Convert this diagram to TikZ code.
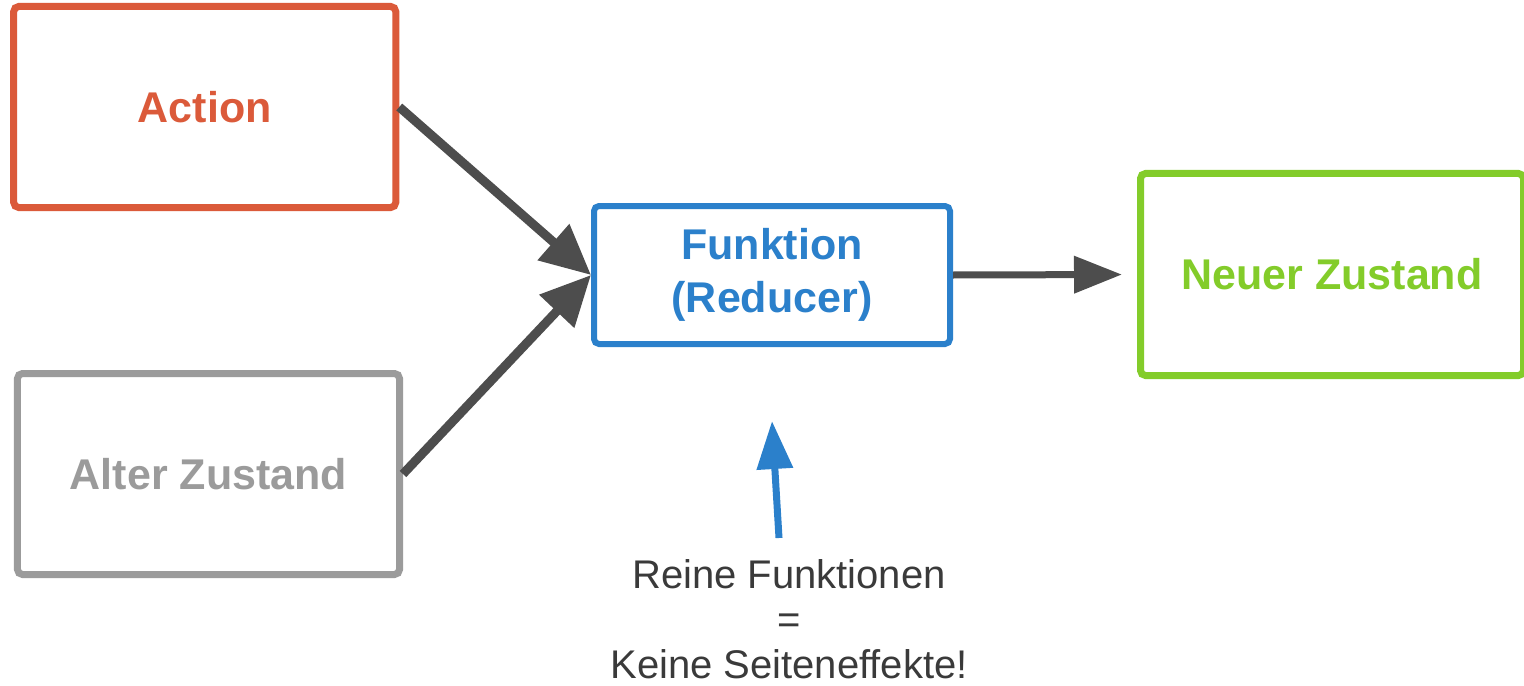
\documentclass[tikz,border=0pt]{standalone}
\usepackage{fontspec}
\setmainfont{Liberation Sans}
\usetikzlibrary{arrows.meta}
\definecolor{cOrange}{HTML}{DB5A3A}
\definecolor{cGray}{HTML}{9B9B9B}
\definecolor{cBlue}{HTML}{2B80CB}
\definecolor{cGreen}{HTML}{83CC2A}
\definecolor{cDark}{HTML}{4D4D4D}
\definecolor{cText}{HTML}{3A3A3A}
\begin{document}
\begin{tikzpicture}[x=1bp,y=-1bp,
  box/.style={draw, line width=7bp, rounded corners=5bp, fill=white, inner sep=0pt,
    font=\fontsize{43bp}{53bp}\selectfont\bfseries, align=center},
  conn/.style={draw=cDark, line width=9bp, -{Triangle[length=50bp,width=46bp]}},
  conn2/.style={draw=cDark, line width=7bp, -{Triangle[length=48bp,width=36bp]}},
  bluearr/.style={draw=cBlue, line width=7bp, -{Triangle[length=48bp,width=35bp]}},
  note/.style={font=\fontsize{40bp}{45bp}\selectfont, text=cText, align=center, inner sep=0pt}
]
\useasboundingbox (0,0) rectangle (1524,686);
\node[box, draw=cOrange, text=cOrange, minimum width=382bp, minimum height=201bp] (action) at (204.75,107) {Action};
\node[box, draw=cGray, text=cGray, minimum width=382bp, minimum height=201bp] (alter) at (208.5,474) {Alter Zustand};
\node[box, draw=cBlue, text=cBlue, line width=6bp, minimum width=356bp, minimum height=138bp] (funk) at (772,275) {Funktion\\(Reducer)};
\node[box, draw=cGreen, text=cGreen, minimum width=383bp, minimum height=202bp] (neu) at (1332,274.5) {Neuer Zustand};
\node[note] (label) at (789,619) {Reine Funktionen\\=\\Keine Seiteneffekte!};
\coordinate (bstart) at (779,538);
\coordinate (btip) at (772,421);
\draw[conn] (action.east) -- (funk.west);
\draw[conn] (alter.east) -- (funk.west);
\draw[conn2, shorten >=15bp] (funk.east) -- (neu.west);
\draw[bluearr] (bstart) -- (btip);
\end{tikzpicture}
\end{document}
